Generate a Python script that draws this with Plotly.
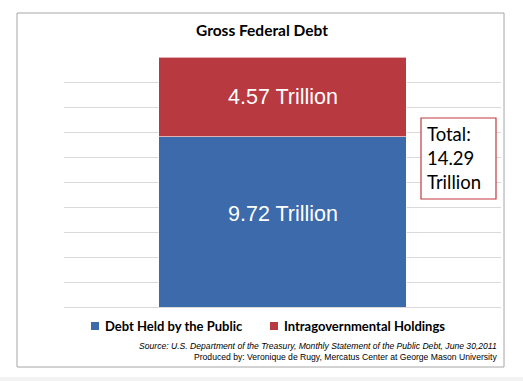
import plotly.graph_objects as go

categories = ["Gross Federal Debt"]
series_names = ["Debt Held by the Public", "Intragovernmental Holdings"]
public_vals = [9.72]
intra_vals = [4.57]
colors = ["#3C6AAA", "#B8393F"]

total = round(public_vals[0] + intra_vals[0], 2)

W, H = 523, 381
ML, MR, MT, MB = 64, 22, 57, 74
PW, PH = W - ML - MR, H - MT - MB

def px(x):
    return (x - ML) / PW

def py(y):
    return (H - MB - y) / PH

fig = go.Figure()
for name, vals, col in [(series_names[0], public_vals, colors[0]),
                        (series_names[1], intra_vals, colors[1])]:
    fig.add_trace(go.Bar(
        x=categories, y=vals, name=name,
        marker=dict(color=col, line=dict(color="white", width=0.6)),
        hoverinfo="skip", showlegend=False,
    ))

# segment labels placed at data coordinates
label_font = dict(family="Liberation Sans, Arial", size=21.5, color="white")
fig.add_annotation(x=categories[0], y=public_vals[0] / 2, yshift=8,
                   text=f"{public_vals[0]:.2f} Trillion", showarrow=False, font=label_font)
fig.add_annotation(x=categories[0], y=public_vals[0] + intra_vals[0] / 2,
                   text=f"{intra_vals[0]:.2f} Trillion", showarrow=False, font=label_font)

fig.update_layout(
    width=W, height=H,
    margin=dict(l=ML, r=MR, t=MT, b=MB),
    paper_bgcolor="white", plot_bgcolor="white",
    barmode="stack", bargap=0.433,
    showlegend=False,
    title=dict(text="<b>Gross Federal Debt</b>", x=262 / W, xanchor="center",
               y=1 - 31 / H, yanchor="middle",
               font=dict(family="Lato", size=15.5, color="black")),
    xaxis=dict(showticklabels=False, showgrid=False, showline=False, ticks="",
               fixedrange=True),
    yaxis=dict(range=[0, total], dtick=total / 10, tick0=0, showticklabels=False,
               showgrid=True, gridcolor="#D9D9D9", gridwidth=1,
               zeroline=True, zerolinecolor="#D9D9D9", zerolinewidth=1,
               showline=False, ticks="", fixedrange=True),
)

# faint grey strip at the very bottom of the image
fig.add_shape(type="rect", xref="paper", yref="paper",
              x0=px(0), x1=px(W), y0=py(H), y1=py(377),
              line=dict(width=0), fillcolor="#F2F2F2", layer="below")

# outer chart border
fig.add_shape(type="rect", xref="paper", yref="paper",
              x0=px(17), x1=px(504), y0=py(367), y1=py(13),
              line=dict(color="#A6A6A6", width=1), layer="below")

# legend (drawn manually to match the compact Excel layout)
legend_items = [(series_names[0], colors[0], 91, 103), (series_names[1], colors[1], 270, 282)]
for name, col, sq_x, tx_x in legend_items:
    fig.add_shape(type="rect", xref="paper", yref="paper",
                  x0=px(sq_x), x1=px(sq_x + 8), y0=py(330), y1=py(322),
                  line=dict(width=0), fillcolor=col)
    fig.add_annotation(xref="paper", yref="paper", x=px(tx_x), y=py(326),
                       xanchor="left", yanchor="middle", showarrow=False,
                       text=f"<b>{name}</b>",
                       font=dict(family="Lato", size=13, color="black"))

# total box
fig.add_shape(type="rect", xref="paper", yref="paper",
              x0=px(421), x1=px(496), y0=py(199), y1=py(118),
              line=dict(color="#C0393F", width=1.2), fillcolor="white", layer="above")
fig.add_annotation(xref="paper", yref="paper", x=px(425), y=py(158),
                   xanchor="left", yanchor="middle", align="left", showarrow=False,
                   text=f"Total:<br>{total:.2f}<br>Trillion",
                   font=dict(family="Lato", size=18.5, color="black"))

# source notes
fig.add_annotation(xref="paper", yref="paper", x=px(499), y=py(346),
                   xanchor="right", yanchor="middle", showarrow=False,
                   text="<i>Source: U.S. Department of the Treasury, Monthly Statement of the Public Debt, June 30,2011</i>",
                   font=dict(family="Liberation Sans, Arial", size=8.6, color="black"))
fig.add_annotation(xref="paper", yref="paper", x=px(499), y=py(357),
                   xanchor="right", yanchor="middle", showarrow=False,
                   text="Produced by: Veronique de Rugy, Mercatus Center at George Mason University",
                   font=dict(family="Liberation Sans, Arial", size=8.6, color="black"))

fig.write_html("out.html", config={"displayModeBar": False},
               post_script="document.body.style.margin='0';")
